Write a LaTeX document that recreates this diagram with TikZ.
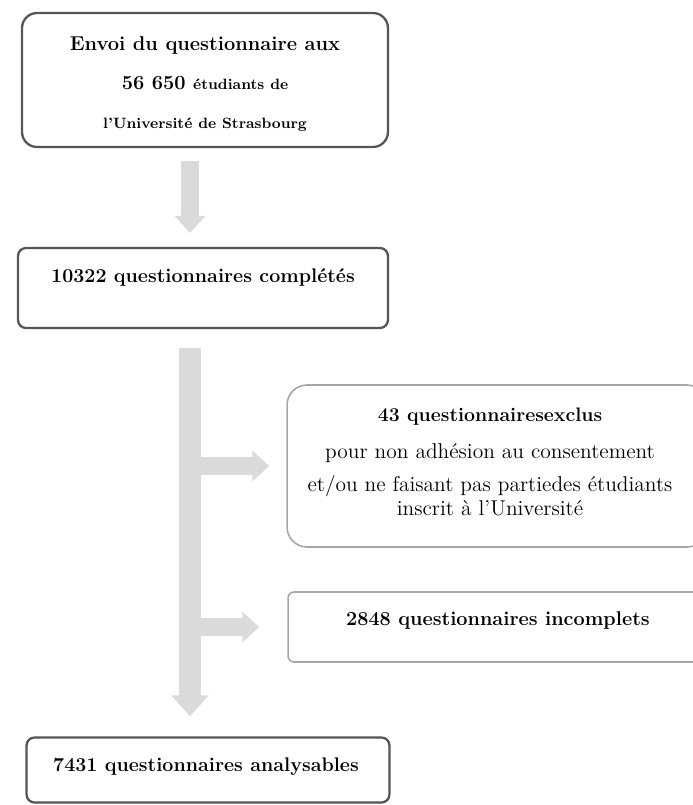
\documentclass[tikz,border=0pt]{standalone}
\usepackage{tikz}
\usetikzlibrary{positioning, calc, arrows.meta}
\definecolor{bordfonce}{HTML}{555555}
\definecolor{bordclair}{HTML}{A6A6A6}
\definecolor{gristrait}{HTML}{DADADA}
\tikzset{
    boite/.style={draw=bordfonce, line width=1.3pt, rounded corners=0.16cm, inner sep=0pt},
    boiteclair/.style={draw=bordclair, line width=0.9pt, rounded corners=0.12cm, inner sep=0pt},
    texte/.style={align=center, inner sep=0pt, font=\fontsize{11.2}{13}\selectfont\bfseries},
    fleche/.style={draw=gristrait, line width=0.44cm, -{Triangle[width=0.72cm,length=0.42cm]}},
    flechecourte/.style={draw=gristrait, line width=0.36cm, -{Triangle[width=0.6cm,length=0.34cm]}}
}
\begin{document}
\begin{tikzpicture}[x=0.02cm, y=-0.02cm]
        \clip (0,0) rectangle (693,805);
        %boites
        \node[boite, rounded corners=0.3cm, minimum width=7.32cm, minimum height=2.68cm] (envoi) at (205,80) {};
        \node[boite, minimum width=7.4cm, minimum height=1.6cm] (completes) at (203,288) {};
        \node[boiteclair, rounded corners=0.4cm, minimum width=8.4cm, minimum height=3.24cm] (exclus) at (497,466) {};
        \node[boiteclair, minimum width=8.4cm, minimum height=1.4cm] (incomplets) at (498,627) {};
        \node[boite, minimum width=7.26cm, minimum height=1.3cm] (analysables) at (208,770) {};
        %textes
        \node[texte, font=\fontsize{11.4}{13}\selectfont\bfseries] (envoitxt) at (205,84) {Envoi du questionnaire aux\\[9pt]
            56 650 {\fontsize{8.5}{10}\selectfont étudiants de}\\[9pt]
            {\fontsize{8.5}{10}\selectfont l'Université de Strasbourg}};
        \node[texte, below=0.42cm of completes.north] (completestxt) {10322 questionnaires complétés};
        \node[texte, font=\fontsize{12.2}{19}\selectfont] (exclustxt) at (490,462) {{\fontsize{11.1}{13}\selectfont\bfseries 43 questionnairesexclus}\\[2pt]
            pour non adhésion au consentement\\
            et/ou ne faisant pas partiedes étudiants\\[-5pt]
            inscrit à l'Université};
        \node[texte, font=\fontsize{11.3}{13}\selectfont\bfseries, below=0.4cm of incomplets.north] (incompletstxt) {2848 questionnaires incomplets};
        \node[texte] (analysablestxt) at (206,767) {7431 questionnaires analysables};
        %fleches
        \coordinate (axe) at (190,0);
        \draw[flechecourte, shorten <=0.26cm, shorten >=0.28cm] (envoi.south -| axe) -- (completes.north -| axe);
        \draw[flechecourte, shorten >=0.34cm] (exclus.west -| axe) -- (exclus.west);
        \draw[flechecourte, shorten >=0.56cm] (incomplets.west -| axe) -- (incomplets.west);
        \draw[fleche, shorten <=0.38cm, shorten >=0.4cm] (completes.south -| axe) -- (analysables.north -| axe);
\end{tikzpicture}
\end{document}
